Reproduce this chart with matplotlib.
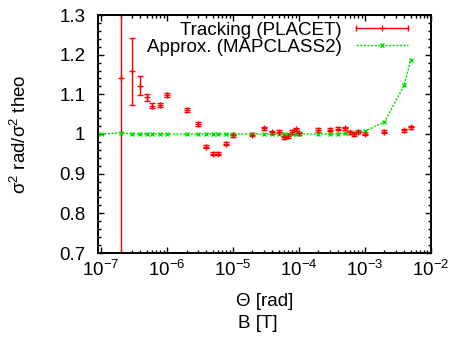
import matplotlib
matplotlib.use('Agg')
import matplotlib.pyplot as plt
from matplotlib.lines import Line2D
from matplotlib.legend_handler import HandlerLine2D, HandlerTuple
from matplotlib.ticker import LogLocator, MultipleLocator, NullFormatter

plt.rcParams['font.family'] = ['Liberation Sans', 'DejaVu Sans']
plt.rcParams['mathtext.fontset'] = 'custom'
plt.rcParams['mathtext.rm'] = 'Liberation Sans'
plt.rcParams['mathtext.it'] = 'Liberation Sans:italic'
plt.rcParams['mathtext.default'] = 'regular'
plt.rcParams['axes.unicode_minus'] = False

# tracking (PLACET)
theta_track = [2e-7, 3e-7, 4e-7, 5e-7, 6e-7, 8e-7, 1e-6, 2e-6, 3e-6, 4e-6, 5e-6, 6e-6,
               8e-6, 1e-5, 2e-5, 3e-5, 4e-5, 5e-5, 6e-5, 7e-5, 8e-5, 9e-5, 1e-4,
               2e-4, 3e-4, 4e-4, 5e-4, 6e-4, 7e-4, 8e-4, 1e-3, 2e-3, 4e-3, 5e-3]
ratio_track = [1.142, 1.158, 1.122, 1.093, 1.071, 1.073, 1.098, 1.061, 1.025, 0.968,
               0.950, 0.950, 0.976, 0.997, 0.998, 1.014, 1.004, 1.006, 0.992, 0.994,
               1.005, 1.012, 1.002, 1.010, 1.011, 1.013, 1.014, 1.004, 0.999, 1.006,
               1.001, 1.006, 1.009, 1.017]
err_track = [0.7, 0.085, 0.024, 0.009, 0.006, 0.005, 0.005, 0.005, 0.004, 0.004,
             0.004, 0.004, 0.004, 0.004, 0.004, 0.004, 0.004, 0.004, 0.004, 0.004,
             0.004, 0.004, 0.004, 0.004, 0.004, 0.004, 0.004, 0.004, 0.004, 0.004,
             0.004, 0.004, 0.004, 0.004]

# approximation (MAPCLASS2)
theta_approx = [1e-7] + theta_track
ratio_approx = [1.000, 1.003, 1.000, 1.000, 1.000, 1.000, 1.000, 1.000, 1.000, 1.000,
                1.000, 1.000, 1.000, 1.000, 1.000, 1.000, 1.000, 1.000, 1.000, 1.000,
                1.000, 1.000, 1.000, 1.000, 1.000, 1.000, 1.000, 1.003, 1.003, 1.003,
                1.005, 1.007, 1.030, 1.123, 1.187]

red = '#ff0000'
green = '#00e000'

fig = plt.figure(figsize=(4.51, 3.38), dpi=100)
ax = fig.add_axes([98 / 451, 1 - 253 / 338, 332.5 / 451, 238 / 338])

ax.errorbar(theta_track, ratio_track, yerr=err_track, fmt='+', color=red,
            ms=4, mew=1, elinewidth=1, capsize=2, capthick=1)
green_line, = ax.plot(theta_approx, ratio_approx, color=green, lw=1,
                      dashes=(1.6, 1.0), marker='x', ms=3.5, mew=1)

ax.set_xscale('log')
ax.set_xlim(10 ** (-7 - 2.7 / 65.9), 1e-2)
ax.set_ylim(0.7, 1.3)
ax.xaxis.set_major_locator(LogLocator(base=10, numticks=10))
ax.xaxis.set_minor_locator(LogLocator(base=10, subs=range(2, 10), numticks=10))
ax.xaxis.set_minor_formatter(NullFormatter())
ax.yaxis.set_major_locator(MultipleLocator(0.1))
ax.yaxis.set_minor_locator(MultipleLocator(0.02))
ax.set_yticks([0.7, 0.8, 0.9, 1.0, 1.1, 1.2, 1.3])
ax.set_yticklabels(['0.7', '0.8', '0.9', '1', '1.1', '1.2', '1.3'])

ax.tick_params(which='both', direction='in', top=True, right=True, labelsize=13.5, width=1)
ax.tick_params(which='major', length=4)
ax.tick_params(which='minor', length=2)
ax.tick_params(axis='y', pad=9)
ax.tick_params(axis='x', pad=5)
for s in ax.spines.values():
    s.set_linewidth(1.4)

ax.set_xlabel('Θ [rad]', fontsize=13.5, labelpad=9)
fig.text(257.5 / 451, 1 - 323.5 / 338, 'B [T]', fontsize=13.5, ha='center', va='center')
ax.set_ylabel('σ$^2$ rad/σ$^2$ theo', fontsize=13.5)
ax.yaxis.set_label_coords(-0.205, 0.5)

# gnuplot style legend: text first, sample on the right
red_line = Line2D([], [], color=red, lw=1, marker='+', ms=5, mew=1)
red_caps = Line2D([], [], color=red, ls='none', marker='|', ms=5, mew=1)
leg = ax.legend([(red_line, red_caps), green_line],
                ['Tracking (PLACET)', 'Approx. (MAPCLASS2)'],
                handler_map={red_caps: HandlerLine2D(numpoints=2, marker_pad=0),
                             tuple: HandlerTuple(ndivide=1)},
                loc='upper right', bbox_to_anchor=(0.9314, 0.972),
                markerfirst=False, frameon=False, fontsize=13.5,
                handlelength=2.75, handletextpad=0.75, labelspacing=0.0,
                borderpad=0, borderaxespad=0, numpoints=1)

plt.savefig('out.png', dpi=100)
